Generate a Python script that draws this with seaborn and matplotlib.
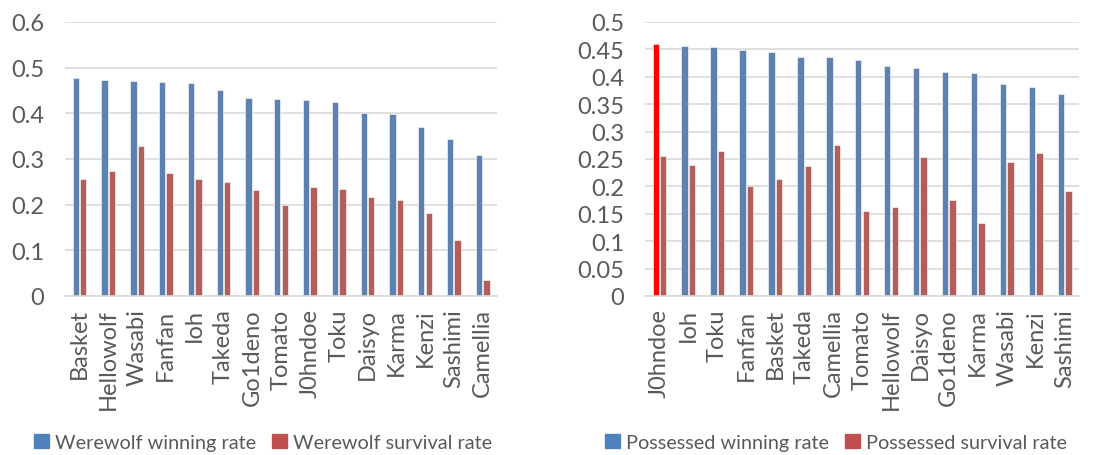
import numpy as np
import matplotlib
matplotlib.use("Agg")
import matplotlib.pyplot as plt
from matplotlib.ticker import FuncFormatter
import pandas as pd
import seaborn as sns

# data

ww_players = ["Basket", "Hellowolf", "Wasabi", "Fanfan", "Ioh", "Takeda", "Go1deno", "Tomato",
              "J0hndoe", "Toku", "Daisyo", "Karma", "Kenzi", "Sashimi", "Camellia"]
ww_win = [0.478, 0.472, 0.470, 0.468, 0.466, 0.450, 0.433, 0.431, 0.429, 0.425, 0.401, 0.399, 0.370, 0.343, 0.309]
ww_surv = [0.257, 0.273, 0.329, 0.270, 0.257, 0.250, 0.233, 0.199, 0.238, 0.234, 0.216, 0.211, 0.181, 0.123, 0.034]

ps_players = ["J0hndoe", "Ioh", "Toku", "Fanfan", "Basket", "Takeda", "Camellia", "Tomato",
              "Hellowolf", "Daisyo", "Go1deno", "Karma", "Wasabi", "Kenzi", "Sashimi"]
ps_win = [0.460, 0.457, 0.454, 0.448, 0.445, 0.437, 0.436, 0.431, 0.419, 0.416, 0.409, 0.406, 0.386, 0.381, 0.368]
ps_surv = [0.255, 0.239, 0.264, 0.201, 0.214, 0.238, 0.276, 0.156, 0.162, 0.253, 0.175, 0.133, 0.245, 0.261, 0.191]

ww_labels = ["Werewolf winning rate", "Werewolf survival rate"]
ps_labels = ["Possessed winning rate", "Possessed survival rate"]

blue = "#4F81BD"
red = "#C0504D"
grey_txt = "#595959"

sns.set_style("white")
plt.rcParams["font.family"] = ["Lato", "DejaVu Sans"]


def long_df(players, win, surv, labels):
    df = pd.DataFrame({"player": players, labels[0]: win, labels[1]: surv})
    return df.melt(id_vars="player", var_name="series", value_name="rate")


def draw(ax, df, labels, ymax, step):
    sns.barplot(data=df, x="player", y="rate", hue="series", hue_order=labels,
                palette=[blue, red], width=0.52, gap=0.15, ax=ax,
                edgecolor="white", linewidth=0.4, legend=False)
    ax.set_ylim(0, ymax)
    ax.set_xlim(-0.5, len(df["player"].unique()) - 0.5)
    ax.set_yticks(np.arange(0, ymax + step / 2, step))
    ax.yaxis.set_major_formatter(FuncFormatter(lambda v, p: "%g" % round(v, 2)))
    ax.grid(axis="y", color="#D9D9D9", linewidth=1.2)
    ax.set_axisbelow(True)
    for s in ["top", "right", "left"]:
        ax.spines[s].set_visible(False)
    ax.spines["bottom"].set_color("#D9D9D9")
    ax.spines["bottom"].set_linewidth(1.2)
    ax.tick_params(axis="both", length=0, labelsize=17, colors=grey_txt)
    ax.tick_params(axis="y", pad=15)
    ax.tick_params(axis="x", rotation=90, pad=9)
    ax.set_xlabel("")
    ax.set_ylabel("")


fig = plt.figure(figsize=(11.03, 4.56), dpi=100)
ax1 = fig.add_axes([0.059, 0.3487, 0.3916, 0.6009])
ax2 = fig.add_axes([0.5848, 0.3487, 0.3935, 0.6009])

draw(ax1, long_df(ww_players, ww_win, ww_surv, ww_labels), ww_labels, 0.6, 0.1)
draw(ax2, long_df(ps_players, ps_win, ps_surv, ps_labels), ps_labels, 0.5, 0.05)

# highlight J0hndoe's possessed winning bar
ax2.containers[0][0].set_facecolor("#FF0000")

for labels, cx in [(ww_labels, 0.2385), (ps_labels, 0.758)]:
    handles = [plt.Rectangle((0, 0), 1, 1, color=c) for c in (blue, red)]
    fig.legend(handles, labels, loc="center", bbox_to_anchor=(cx, 0.028), ncol=2,
               frameon=False, fontsize=14.3, handlelength=0.75, handleheight=0.75,
               handletextpad=0.3, columnspacing=0.8, labelcolor=grey_txt)

fig.savefig("out.png", dpi=100)
